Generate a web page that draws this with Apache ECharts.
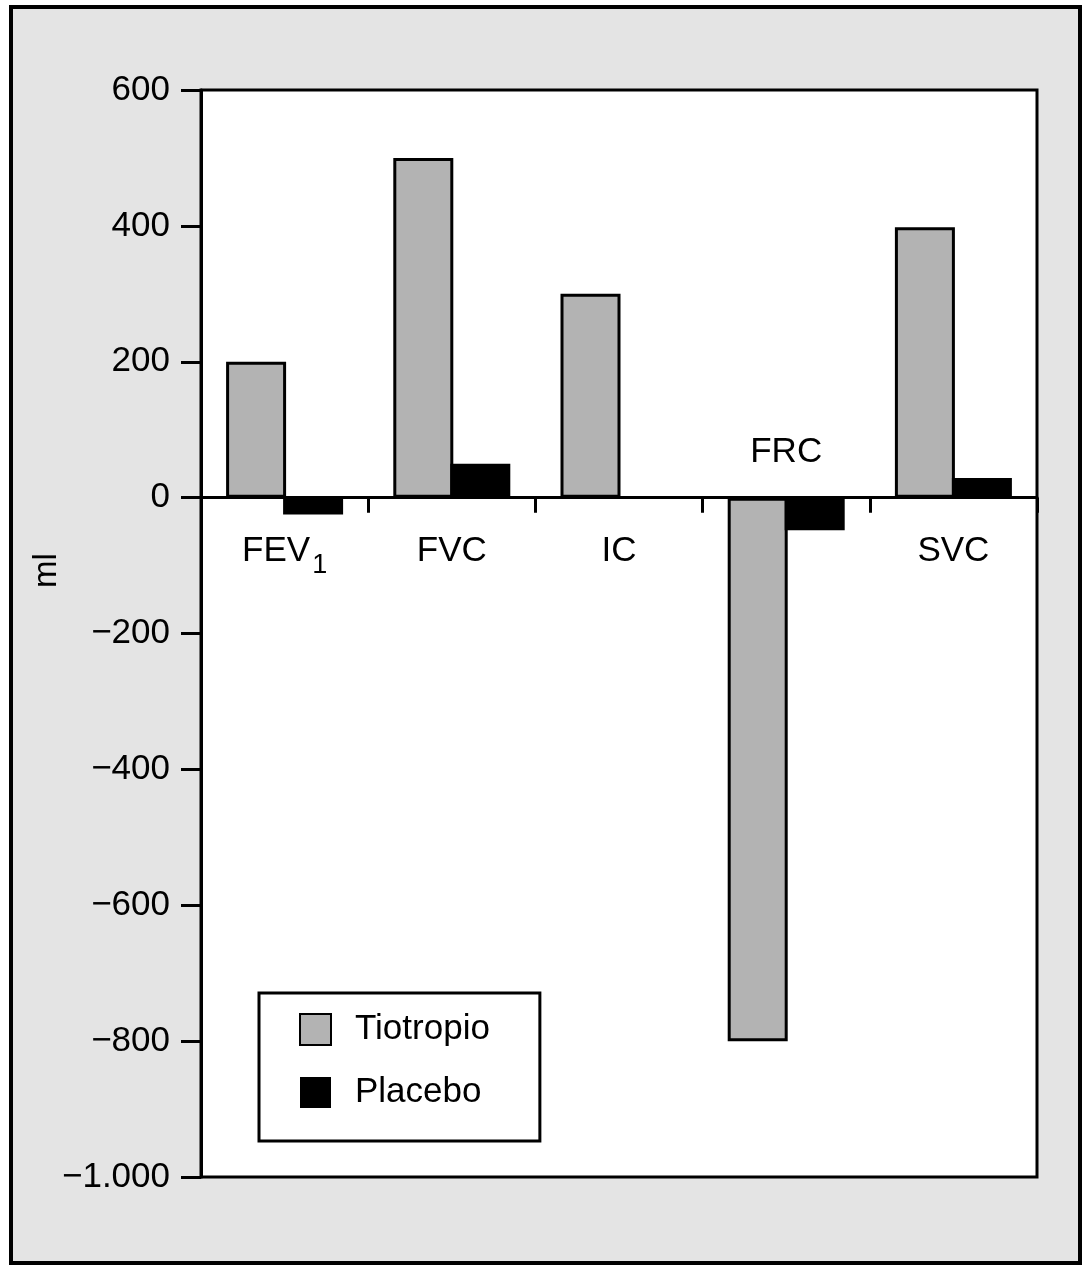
<!DOCTYPE html>
<html>
<head>
<meta charset="utf-8">
<script src="https://cdn.jsdelivr.net/npm/echarts@6/dist/echarts.min.js"></script>
<style>
  html, body { margin: 0; padding: 0; background: #fff; }
  #frame { position: absolute; left: 9px; top: 5px; width: 1065px; height: 1252px; border: 4px solid #000; background: #e4e4e4; }
  #chart { position: absolute; left: 0; top: 0; width: 1089px; height: 1274px; }
</style>
</head>
<body>
<div id="frame"></div>
<div id="chart"></div>
<script>
const categories = ['FEV1', 'FVC', 'IC', 'FRC', 'SVC'];
const tiotropio = [200, 500, 300, -800, 398];
const placebo = [-25, 50, 0, -48, 29];
const seriesNames = ['Tiotropio', 'Placebo'];
const yTicks = { min: -1000, max: 600, interval: 200 };
const yName = 'ml';
const labelsAbove = ['FRC'];

const FONT = 'Liberation Sans';

function fmtY(v) {
  const a = Math.abs(v);
  let s = String(a);
  if (a >= 1000) s = s.slice(0, s.length - 3) + '.' + s.slice(s.length - 3);
  return (v < 0 ? '\u2212' : '') + s;
}

const richLabel = {
  n: { fontFamily: FONT, fontSize: 35, lineHeight: 35, verticalAlign: 'top', color: '#000', opacity: 1 },
  s: { fontFamily: FONT, fontSize: 27, lineHeight: 27, verticalAlign: 'top', padding: [18, 0, 0, 2], color: '#000', opacity: 1 }
};

// category name labels sit on the zero line (one point per category at value 0)
const labelData = categories.map(c => labelsAbove.includes(c)
  ? { value: 0, label: { position: 'top', distance: 28 } }
  : { value: 0 });

const chart = echarts.init(document.getElementById('chart'), null, { renderer: 'canvas' });
chart.setOption({
  backgroundColor: 'transparent',
  animation: false,
  textStyle: { fontFamily: FONT, color: '#000' },
  grid: {
    left: 201, right: 52, top: 90, bottom: 97,
    show: true, backgroundColor: '#fff', borderColor: '#000', borderWidth: 3
  },
  legend: {
    orient: 'vertical',
    left: 259, top: 993,
    data: seriesNames,
    backgroundColor: '#fff',
    borderColor: '#000',
    borderWidth: 3,
    borderRadius: 0,
    padding: [19, 50, 31, 40],
    itemWidth: 31, itemHeight: 31, itemGap: 28,
    icon: 'rect',
    textStyle: { fontFamily: FONT, fontSize: 35, color: '#000', padding: [0, 0, 0, 19], lineHeight: 31 }
  },
  xAxis: {
    type: 'category',
    data: categories,
    axisLine: { onZero: true, lineStyle: { color: '#000', width: 3 } },
    axisTick: { show: true, alignWithLabel: false, length: 15, lineStyle: { color: '#000', width: 3 } },
    axisLabel: { show: false },
    splitLine: { show: false }
  },
  yAxis: {
    type: 'value',
    min: yTicks.min, max: yTicks.max, interval: yTicks.interval,
    name: yName,
    nameLocation: 'middle',
    nameGap: 138,
    nameMoveOverlap: false,
    nameRotate: 90,
    nameTextStyle: { fontFamily: FONT, fontSize: 33, color: '#000', padding: [0, 0, 0, 126] },
    axisLine: { show: true, lineStyle: { color: '#000', width: 3 } },
    axisTick: { show: true, length: 20, lineStyle: { color: '#000', width: 3 } },
    axisLabel: { margin: 31, fontFamily: FONT, fontSize: 35, color: '#000', formatter: fmtY },
    splitLine: { show: false }
  },
  series: [
    {
      name: seriesNames[0], type: 'bar', data: tiotropio,
      barWidth: 60, barGap: '-5%',
      itemStyle: { color: '#b3b3b3', borderColor: '#000', borderWidth: 3 }
    },
    {
      name: seriesNames[1], type: 'bar', data: placebo,
      barWidth: 60, barGap: '-5%',
      itemStyle: { color: '#000', borderColor: '#000', borderWidth: 0 }
    },
    {
      name: 'categoryLabels', type: 'scatter', data: labelData,
      symbolSize: 0,
      itemStyle: { color: '#000' },
      silent: true,
      z: 5,
      label: {
        show: true,
        position: 'bottom',
        distance: 36,
        fontFamily: FONT,
        fontSize: 35,
        lineHeight: 35,
        color: '#000',
        opacity: 1,
        textBorderWidth: 0,
        formatter: p => categories[p.dataIndex] === 'FEV1' ? '{n|FEV}{s|1}' : categories[p.dataIndex],
        rich: richLabel
      }
    }
  ]
});
</script>
</body>
</html>
